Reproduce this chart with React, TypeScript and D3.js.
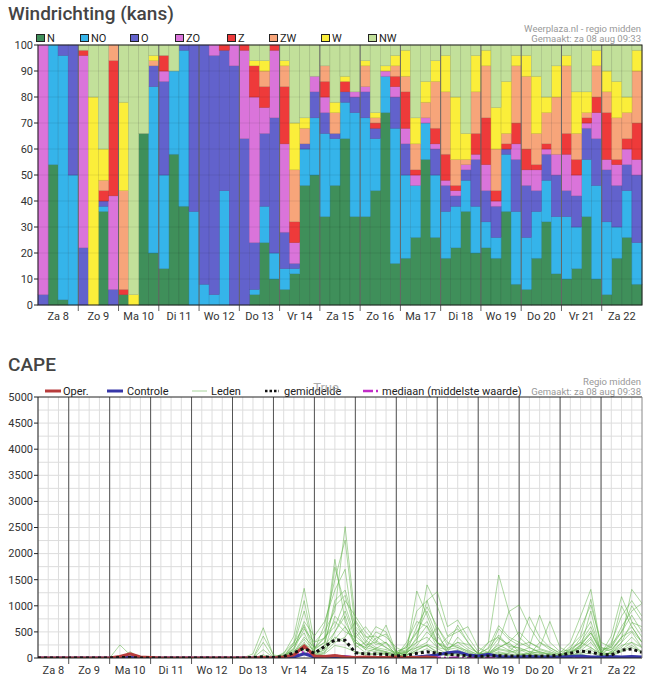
import * as d3 from 'd3';

// ---------- wind direction (kans, %) per 6h step, 60 steps ----------
const dirs = ['N', 'NO', 'O', 'ZO', 'Z', 'ZW', 'W', 'NW'];
const dirColors = ['#3f8f5a', '#35b4ea', '#6262cc', '#da74da', '#ee3a3a', '#f7a57a', '#fbee3a', '#c2e09a'];
const dayLabels = ['Za 8', 'Zo 9', 'Ma 10', 'Di 11', 'Wo 12', 'Do 13', 'Vr 14', 'Za 15', 'Zo 16', 'Ma 17', 'Di 18', 'Wo 19', 'Do 20', 'Vr 21', 'Za 22'];

const windN = [0, 54, 2, 0, 0, 0, 36, 0, 4, 0, 66, 20, 14, 58, 38, 0, 0, 0, 0, 0, 0, 4, 24, 10, 6, 12, 46, 50, 34, 46, 64, 34, 34, 44, 74, 16, 18, 26, 56, 26, 18, 22, 36, 20, 22, 18, 36, 8, 6, 18, 32, 12, 10, 14, 34, 10, 4, 18, 26, 8];
const windNO = [0, 46, 94, 50, 0, 0, 2, 0, 0, 0, 0, 64, 36, 32, 60, 36, 8, 4, 44, 0, 0, 2, 14, 10, 8, 2, 14, 22, 32, 18, 14, 40, 38, 20, 14, 52, 32, 20, 14, 24, 18, 16, 12, 18, 10, 8, 22, 28, 20, 18, 16, 22, 24, 16, 22, 36, 28, 12, 18, 16];
const windO = [4, 0, 4, 50, 22, 0, 2, 6, 0, 0, 0, 8, 36, 0, 2, 64, 92, 92, 54, 92, 64, 18, 28, 52, 14, 2, 2, 10, 8, 2, 4, 6, 10, 4, 0, 12, 12, 0, 0, 10, 10, 4, 4, 18, 12, 12, 2, 20, 20, 8, 10, 16, 10, 12, 12, 18, 20, 16, 10, 26];
const windZO = [96, 0, 0, 0, 74, 0, 0, 36, 0, 0, 0, 0, 4, 0, 0, 0, 0, 4, 0, 8, 34, 56, 10, 26, 34, 8, 0, 6, 6, 0, 0, 2, 2, 0, 2, 4, 6, 4, 2, 2, 2, 2, 2, 2, 10, 2, 0, 6, 6, 8, 2, 8, 14, 8, 2, 10, 4, 8, 6, 6];
const windZ = [0, 0, 0, 0, 2, 0, 4, 52, 2, 0, 0, 0, 6, 0, 0, 0, 0, 0, 2, 0, 2, 12, 8, 2, 22, 8, 0, 0, 6, 0, 4, 0, 0, 2, 0, 4, 14, 2, 0, 6, 10, 2, 0, 8, 18, 4, 2, 8, 8, 2, 2, 0, 8, 6, 2, 6, 18, 2, 4, 14];
const windZW = [0, 0, 0, 0, 0, 0, 4, 6, 38, 0, 0, 2, 0, 0, 0, 0, 0, 0, 0, 0, 0, 0, 6, 0, 8, 20, 6, 0, 6, 8, 0, 0, 8, 2, 0, 4, 6, 10, 6, 18, 24, 10, 2, 16, 20, 16, 4, 22, 28, 12, 12, 22, 26, 10, 2, 12, 8, 16, 10, 20];
const windW = [0, 0, 0, 0, 0, 80, 12, 0, 34, 4, 0, 2, 0, 0, 0, 0, 0, 0, 0, 0, 0, 2, 4, 0, 2, 18, 4, 0, 0, 4, 2, 0, 2, 2, 2, 4, 10, 10, 8, 8, 14, 24, 10, 14, 6, 16, 20, 4, 8, 22, 6, 12, 4, 16, 8, 6, 8, 14, 6, 8];
const windNW = [0, 0, 0, 0, 2, 20, 40, 0, 22, 96, 34, 4, 4, 10, 0, 0, 0, 0, 0, 0, 0, 6, 6, 0, 6, 30, 28, 12, 8, 22, 12, 18, 6, 26, 8, 4, 2, 28, 14, 6, 4, 20, 34, 4, 2, 24, 14, 4, 4, 12, 20, 8, 4, 18, 18, 2, 10, 14, 20, 2];

const windSeries = [windN, windNO, windO, windZO, windZ, windZW, windW, windNW];

// ---------- CAPE, 6h steps from za 8 aug 06:00 (60 steps) ----------
const capeMembers = [
  [0, 0, 0, 0, 0, 0, 0, 0, 250, 60, 0, 0, 0, 0, 0, 0, 0, 0, 0, 0, 0, 0, 0, 0, 80, 420, 1335, 300, 520, 900, 2516, 730, 420, 260, 300, 120, 200, 480, 900, 420, 180, 300, 160, 60, 120, 380, 260, 180, 120, 90, 60, 40, 150, 300, 600, 120, 260, 500, 820, 500],
  [0, 0, 0, 0, 0, 0, 0, 0, 0, 0, 0, 0, 0, 0, 0, 0, 0, 0, 0, 0, 0, 80, 580, 40, 0, 200, 640, 180, 380, 1890, 700, 300, 160, 380, 460, 90, 160, 300, 1400, 1000, 420, 560, 300, 80, 100, 560, 360, 240, 300, 180, 120, 60, 220, 420, 1125, 200, 160, 360, 1315, 1047],
  [0, 0, 0, 0, 0, 0, 0, 0, 0, 0, 0, 0, 0, 0, 0, 0, 0, 0, 0, 0, 0, 0, 420, 60, 20, 300, 1100, 150, 640, 1500, 2260, 560, 300, 160, 120, 60, 120, 1283, 820, 300, 200, 240, 120, 40, 60, 180, 140, 60, 90, 120, 80, 30, 180, 300, 200, 80, 420, 1175, 700, 400],
  [0, 0, 0, 0, 0, 0, 0, 0, 0, 0, 0, 0, 0, 0, 0, 0, 0, 0, 0, 0, 0, 0, 300, 0, 0, 260, 900, 180, 300, 1740, 1000, 420, 250, 300, 630, 100, 90, 400, 1100, 1270, 600, 728, 400, 120, 300, 1590, 890, 1015, 600, 300, 160, 60, 60, 240, 480, 100, 300, 800, 1100, 800],
  [0, 0, 0, 0, 0, 0, 0, 0, 0, 120, 0, 0, 0, 0, 0, 0, 0, 0, 0, 0, 0, 0, 160, 0, 40, 180, 700, 420, 700, 1300, 1700, 300, 200, 500, 400, 200, 100, 600, 980, 600, 240, 630, 300, 60, 200, 620, 400, 300, 790, 400, 200, 100, 300, 800, 1315, 200, 120, 400, 600, 300],
  [0, 0, 0, 0, 0, 0, 0, 0, 0, 0, 0, 0, 0, 0, 0, 0, 0, 0, 0, 0, 0, 0, 0, 0, 100, 300, 600, 100, 250, 1100, 1300, 600, 400, 420, 280, 60, 240, 500, 700, 300, 120, 400, 200, 100, 60, 300, 890, 400, 220, 820, 300, 120, 160, 570, 1015, 300, 200, 600, 900, 1047],
  [0, 0, 0, 0, 0, 0, 0, 0, 0, 0, 0, 0, 0, 0, 0, 0, 0, 0, 0, 0, 0, 0, 0, 0, 60, 250, 480, 60, 160, 800, 600, 250, 100, 180, 300, 40, 300, 700, 600, 200, 400, 500, 600, 200, 100, 200, 300, 500, 300, 200, 700, 200, 100, 200, 400, 50, 240, 1000, 600, 300],
  [0, 0, 0, 0, 0, 0, 0, 0, 0, 0, 0, 0, 0, 0, 0, 0, 0, 0, 0, 0, 0, 0, 0, 0, 30, 120, 400, 200, 400, 600, 1100, 800, 500, 300, 200, 100, 60, 200, 300, 600, 300, 200, 100, 40, 300, 400, 200, 100, 60, 300, 200, 80, 120, 200, 900, 100, 80, 300, 500, 200],
  [0, 0, 0, 0, 0, 0, 0, 0, 0, 0, 0, 0, 0, 0, 0, 0, 0, 0, 0, 0, 0, 0, 0, 0, 0, 80, 300, 40, 100, 500, 800, 200, 300, 600, 500, 120, 200, 900, 1100, 500, 100, 100, 60, 20, 40, 100, 60, 40, 100, 60, 30, 20, 40, 100, 200, 40, 100, 240, 300, 100],
  [0, 0, 0, 0, 0, 0, 0, 0, 0, 0, 0, 0, 0, 0, 0, 0, 0, 0, 0, 0, 0, 0, 0, 0, 20, 60, 240, 100, 200, 400, 300, 100, 60, 100, 60, 30, 80, 300, 400, 200, 160, 200, 140, 60, 100, 250, 150, 80, 40, 60, 40, 20, 60, 180, 360, 60, 100, 200, 400, 200],
  [0, 0, 0, 0, 0, 0, 0, 0, 0, 0, 0, 0, 0, 0, 0, 0, 0, 0, 0, 0, 0, 0, 0, 0, 50, 160, 560, 300, 380, 700, 500, 400, 600, 340, 200, 60, 120, 200, 240, 100, 60, 80, 40, 10, 30, 60, 100, 160, 80, 50, 20, 10, 30, 140, 300, 40, 120, 300, 680, 600],
  [0, 0, 0, 0, 0, 0, 0, 0, 0, 0, 0, 0, 0, 0, 0, 0, 0, 0, 0, 0, 0, 0, 0, 0, 0, 40, 200, 60, 120, 300, 400, 700, 340, 200, 160, 100, 60, 140, 260, 180, 80, 120, 60, 20, 80, 160, 120, 300, 200, 100, 80, 40, 80, 260, 520, 100, 80, 160, 300, 200],
  [0, 0, 0, 0, 0, 0, 0, 0, 0, 0, 0, 0, 0, 0, 0, 0, 0, 0, 0, 0, 0, 0, 0, 0, 0, 20, 120, 40, 80, 240, 200, 120, 80, 60, 100, 40, 60, 100, 180, 80, 40, 60, 30, 10, 20, 80, 40, 30, 60, 40, 20, 10, 40, 80, 160, 30, 60, 140, 240, 120],
  [0, 0, 0, 0, 0, 0, 0, 0, 0, 0, 0, 0, 0, 0, 0, 0, 0, 0, 0, 0, 0, 0, 0, 0, 10, 60, 180, 80, 160, 360, 600, 300, 200, 150, 100, 50, 40, 160, 240, 120, 60, 100, 50, 20, 60, 120, 80, 60, 30, 30, 20, 10, 20, 60, 100, 20, 40, 120, 200, 100],
  [0, 0, 0, 0, 0, 0, 0, 0, 0, 0, 0, 0, 0, 0, 0, 0, 0, 0, 0, 0, 0, 0, 60, 0, 0, 100, 360, 120, 240, 500, 900, 360, 160, 120, 80, 20, 100, 240, 500, 300, 100, 160, 80, 40, 80, 200, 300, 120, 200, 120, 60, 30, 100, 380, 700, 120, 160, 400, 520, 300],
  [0, 0, 0, 0, 0, 0, 0, 0, 0, 0, 0, 0, 0, 0, 0, 0, 0, 0, 0, 0, 0, 0, 0, 0, 40, 140, 260, 160, 300, 1000, 1200, 500, 240, 180, 120, 80, 140, 360, 620, 280, 180, 300, 260, 80, 180, 440, 220, 200, 120, 160, 100, 60, 120, 240, 480, 160, 200, 500, 1000, 700],
];
const capeMean = [0, 0, 0, 0, 0, 0, 0, 0, 10, 10, 0, 0, 0, 0, 0, 0, 0, 0, 0, 0, 0, 10, 25, 10, 30, 100, 185, 90, 220, 345, 340, 100, 80, 75, 70, 40, 50, 90, 120, 90, 70, 55, 45, 25, 40, 45, 40, 38, 38, 35, 40, 57, 90, 134, 110, 70, 57, 150, 172, 108];
const capeMedian = [0, 0, 0, 0, 0, 0, 0, 0, 0, 0, 0, 0, 0, 0, 0, 0, 0, 0, 0, 0, 0, 0, 0, 0, 0, 20, 120, 10, 20, 40, 30, 10, 0, 0, 0, 0, 0, 10, 20, 10, 0, 10, 0, 0, 0, 0, 0, 0, 0, 0, 0, 0, 0, 10, 20, 0, 0, 10, 20, 10];
const capeControle = [0, 0, 0, 0, 0, 0, 0, 0, 10, 20, 0, 0, 0, 0, 0, 0, 0, 0, 0, 0, 0, 0, 0, 0, 0, 20, 80, 20, 10, 30, 20, 0, 10, 10, 0, 10, 0, 20, 40, 60, 100, 120, 60, 40, 70, 30, 20, 20, 30, 20, 20, 20, 30, 40, 20, 20, 30, 20, 30, 20];
const capeOper = [0, 0, 0, 0, 0, 0, 0, 0, 30, 80, 20, 10, 0, 0, 0, 0, 0, 0, 0, 0, 0, 0, 10, 0, 20, 60, 230, 40, 30, 50, 20, 10, 20, 10, 10, 20, 10, 10, 20, 0];

const capeStart = new Date(2020, 7, 8, 6);
const capeEnd = new Date(2020, 7, 23, 0);

const FONT = 'Roboto, "Noto Sans", sans-serif';

function WindChart() {
  const left = 38, right = 642, top = 45, bottom = 305;
  const x = d3.scaleBand<number>().domain(d3.range(windN.length)).range([left, right]);
  const y = d3.scaleLinear().domain([0, 100]).range([bottom, top]);
  const rows = d3.range(windN.length).map((i) => {
    const r: Record<string, number> = {};
    dirs.forEach((k, j) => (r[k] = windSeries[j][i]));
    return r;
  });
  const stacked = d3.stack<Record<string, number>>().keys(dirs)(rows);
  const legendX = [36, 80, 130, 175, 227, 269, 321, 368];

  return (
    <g fontFamily={FONT}>
      <text x={8} y={20} fontSize={19} fontWeight={500} fill="#444">Windrichting (kans)</text>
      <text x={641} y={32} fontSize={9.5} fill="#999" textAnchor="end">Weerplaza.nl - regio midden</text>
      <text x={641} y={42} fontSize={9.5} fill="#999" textAnchor="end">Gemaakt: za 08 aug 09:33</text>
      {dirs.map((k, j) => (
        <g key={k}>
          <rect x={legendX[j] + 0.5} y={34.5} width={8} height={7} fill={dirColors[j]} stroke="#222" strokeWidth={1} />
          <text x={legendX[j] + 11} y={42} fontSize={11} fill="#222">{k}</text>
        </g>
      ))}
      {stacked.map((s, j) =>
        s.map((p, i) =>
          p[1] - p[0] > 0 ? (
            <rect
              key={`${j}-${i}`}
              x={x(i)}
              y={y(p[1])}
              width={x.bandwidth()}
              height={y(p[0]) - y(p[1])}
              fill={dirColors[j]}
              stroke={d3.color(dirColors[j])!.darker(0.6).formatHex()}
              strokeWidth={0.5}
            />
          ) : null
        )
      )}
      {d3.range(10, 100, 10).map((v) => (
        <line key={v} x1={left} x2={right} y1={y(v)} y2={y(v)} stroke="#000" strokeOpacity={0.08} />
      ))}
      {d3.range(1, dayLabels.length).map((d) => (
        <line key={d} x1={x(d * 4)!} x2={x(d * 4)!} y1={top} y2={bottom + 6} stroke="#666" strokeWidth={1} />
      ))}
      <rect x={left} y={top} width={right - left} height={bottom - top} fill="none" stroke="#222" strokeWidth={1} />
      {d3.range(0, 101, 10).map((v) => (
        <g key={v}>
          <line x1={left - 4} x2={left} y1={y(v)} y2={y(v)} stroke="#222" />
          <text x={left - 5} y={y(v)} dy="0.35em" fontSize={11} textAnchor="end" fill="#333">{v}</text>
        </g>
      ))}
      {dayLabels.map((lab, d) => (
        <text key={lab} x={x(d * 4)! + x.bandwidth() * 2} y={320} fontSize={11} textAnchor="middle" fill="#333">{lab}</text>
      ))}
    </g>
  );
}

function CapeChart() {
  const left = 38, right = 642, top = 397, bottom = 658;
  const x = d3.scaleTime().domain([capeStart, capeEnd]).range([left, right]);
  const y = d3.scaleLinear().domain([0, 5000]).range([bottom, top]);
  const times = capeMembers[0].map((_, i) => d3.timeHour.offset(capeStart, 6 * i));
  const line = d3
    .line<number>()
    .x((_, i) => x(times[i]))
    .y((v) => y(v));
  const days = d3.timeDay.range(new Date(2020, 7, 9), capeEnd);
  const sixHours = d3.timeHour.every(6)!.range(capeStart, capeEnd);
  const dayStarts = d3.timeDay.range(new Date(2020, 7, 8), new Date(2020, 7, 23));

  return (
    <g fontFamily={FONT}>
      <defs>
        <clipPath id="capeClip">
          <rect x={left} y={top} width={right - left} height={bottom - top} />
        </clipPath>
      </defs>
      <text x={8} y={371} fontSize={19} fontWeight={500} fill="#444">CAPE</text>
      <text x={641} y={385} fontSize={9.5} fill="#999" textAnchor="end">Regio midden</text>
      <text x={641} y={395} fontSize={9.5} fill="#999" textAnchor="end">Gemaakt: za 08 aug 09:38</text>
      {/* legend */}
      <line x1={45} x2={61} y1={391} y2={391} stroke="#b83c3c" strokeWidth={3} />
      <text x={63} y={395} fontSize={11} fill="#222">Oper.</text>
      <line x1={107} x2={123} y1={391} y2={391} stroke="#3636a8" strokeWidth={3} />
      <text x={127} y={395} fontSize={11} fill="#222">Controle</text>
      <line x1={192} x2={207} y1={391} y2={391} stroke="#a8d49c" strokeWidth={1} />
      <text x={211} y={395} fontSize={11} fill="#222">Leden</text>
      <line x1={265} x2={279} y1={391} y2={391} stroke="#111" strokeWidth={2.5} strokeDasharray="2.5,2" />
      <text x={284} y={395} fontSize={11} fill="#222">gemiddelde</text>
      <text x={326} y={392} fontSize={13} fill="#999" textAnchor="middle" opacity={0.8}>True</text>
      <line x1={363} x2={378} y1={391} y2={391} stroke="#c22cc8" strokeWidth={2.5} strokeDasharray="10,3,2,3" />
      <text x={382} y={395} fontSize={11} fill="#222">mediaan (middelste waarde)</text>

      {/* grid */}
      {d3.range(250, 5000, 250).map((v) => (
        <line key={v} x1={left} x2={right} y1={y(v)} y2={y(v)} stroke="#ddd" strokeWidth={1} />
      ))}
      {sixHours.map((t) => (
        <line key={+t} x1={x(t)} x2={x(t)} y1={top} y2={bottom} stroke="#ddd" strokeWidth={1} />
      ))}
      {days.map((t) => (
        <line key={+t} x1={x(t)} x2={x(t)} y1={top} y2={bottom + 6} stroke="#555" strokeWidth={1} />
      ))}

      <g clipPath="url(#capeClip)">
        {capeMembers.map((m, i) => (
          <path key={i} d={line(m)!} fill="none" stroke="#5cb044" strokeOpacity={0.5} strokeWidth={1} />
        ))}
        <path d={line(capeMedian)!} fill="none" stroke="#c22cc8" strokeWidth={2.5} strokeDasharray="10,3,2,3" />
        <path d={line(capeControle)!} fill="none" stroke="#3636a8" strokeWidth={3} />
        <path d={line(capeOper)!} fill="none" stroke="#b83c3c" strokeWidth={3} />
        <path d={line(capeMean)!} fill="none" stroke="#111" strokeWidth={3} strokeDasharray="3,3" />
      </g>

      <line x1={left} x2={right} y1={top} y2={top} stroke="#222" />
      <line x1={left} x2={right} y1={bottom} y2={bottom} stroke="#222" />
      <line x1={left} x2={left} y1={top} y2={bottom} stroke="#222" />
      <line x1={right} x2={right} y1={top} y2={bottom} stroke="#888" />
      {d3.range(0, 5001, 500).map((v) => (
        <g key={v}>
          <line x1={left - 4} x2={left} y1={y(v)} y2={y(v)} stroke="#222" />
          <text x={left - 5} y={y(v)} dy="0.35em" fontSize={11} textAnchor="end" fill="#333">{v}</text>
        </g>
      ))}
      {dayStarts.map((t, i) => {
        const a = Math.max(x(t), left);
        const b = Math.min(x(d3.timeDay.offset(t, 1)), right);
        return (
          <text key={+t} x={(a + b) / 2} y={674} fontSize={11} textAnchor="middle" fill="#333">{dayLabels[i]}</text>
        );
      })}
    </g>
  );
}

export default function App() {
  return (
    <svg width={652} height={687} style={{ position: 'absolute', left: 0, top: 0, background: '#fff' }}>
      <WindChart />
      <CapeChart />
    </svg>
  );
}
